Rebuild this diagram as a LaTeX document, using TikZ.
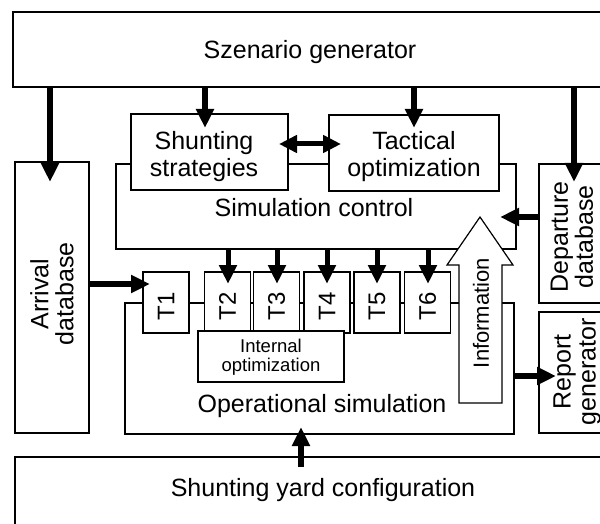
\documentclass[tikz,border=0pt]{standalone}
\usepackage{fontspec}
\setmainfont{Liberation Sans}
\usetikzlibrary{arrows.meta}
\begin{document}
\begin{tikzpicture}[x=1pt,y=-1pt,
  box/.style={draw,fill=white,line width=1.4pt,rectangle,inner sep=0pt},
  lbl/.style={font=\fontsize{25}{27}\selectfont,align=center,inner sep=0pt},
  rlbl/.style={font=\fontsize{25}{25}\selectfont,align=center,inner sep=0pt,rotate=90},
  tlbl/.style={font=\fontsize{24}{24}\selectfont,rotate=90,inner sep=0pt},
  slbl/.style={font=\fontsize{18.5}{19.5}\selectfont,align=center,inner sep=0pt},
  arr/.style={line width=5.5pt,-{Triangle[length=19pt,width=17pt]}},
  darr/.style={line width=5pt,{Triangle[length=18pt,width=17pt]}-{Triangle[length=18pt,width=17pt]}},
  infoarrow/.style={draw,fill=white,line width=1.2pt,line join=miter}]
\useasboundingbox (0,0) rectangle (600,524);
\clip (0,0) rectangle (600,524);

% outer boxes
\node[box,minimum width=607pt,minimum height=75pt] (szen) at (316.5,49.5) {};
\node[lbl] (szenT) at (310,52) {Szenario generator};
\node[box,minimum width=74pt,minimum height=271pt] (arrdb) at (52,297.5) {};
\node[rlbl] (arrdbT) at (52,294) {Arrival\\database};
\node[box,minimum width=81pt,minimum height=139pt] (depdb) at (579.5,233.5) {};
\node[rlbl] (depdbT) at (572,237) {Departure\\database};
\node[box,minimum width=81pt,minimum height=121pt] (repgen) at (579.5,372.5) {};
\node[rlbl] (repgenT) at (577,372) {Report\\generator};
\node[box,minimum width=605pt,minimum height=83pt] (yard) at (317.5,498.5) {};
\node[lbl] (yardT) at (323,490) {Shunting yard configuration};

% simulation control
\node[box,minimum width=400pt,minimum height=85pt] (simctl) at (316,206.5) {};
\node[lbl] (simctlT) at (314,208) {Simulation control};
\node[box,minimum width=157pt,minimum height=76pt] (shunt) at (209.5,152) {};
\node[lbl] (shuntT) at (204,157) {Shunting\\strategies};
\node[box,minimum width=170pt,minimum height=76pt] (tact) at (414,153) {};
\node[lbl] (tactT) at (414,157) {Tactical\\optimization};

% operational simulation
\node[box,minimum width=389pt,minimum height=131pt] (opsim) at (319.5,368.5) {};
\node[lbl] (opsimT) at (322,406) {Operational simulation};
\foreach \n/\x in {1/166,2/227.5,3/276.5,4/327,5/377,6/427.5}{
  \node[box,minimum width=46pt,minimum height=61pt] (T\n) at (\x,302.5) {};
  \node[tlbl] (T\n T) at (\x,306) {T\n};
}
\node[box,minimum width=146pt,minimum height=51pt] (intopt) at (271,356.5) {};
\node[slbl] (intoptT) at (271,357) {Internal\\optimization};

% information arrow
\draw[infoarrow] (459,403) -- (459,265) -- (447,265) -- (480,217) -- (513,265) -- (502,265) -- (502,403) -- cycle;
\node[font=\fontsize{22}{22}\selectfont,rotate=90,inner sep=0pt] (infoT) at (481,313) {Information};

% arrow end points
\coordinate (tA) at (50,182);
\coordinate (tB) at (205,128);
\coordinate (tC) at (414,128);
\coordinate (tD) at (574,182);
\coordinate (dL) at (279,144);
\coordinate (dR) at (341,144);
\coordinate (tE) at (500,217);
\coordinate (tF) at (150,284);
\coordinate (tG) at (556,376);
\coordinate (tH) at (301,427);
\coordinate (sH) at (301,467);

\draw[arr] (szen.south -| tA) -- (tA);
\draw[arr] (szen.south -| tB) -- (tB);
\draw[arr] (szen.south -| tC) -- (tC);
\draw[arr] (szen.south -| tD) -- (tD);
\draw[darr] (dL) -- (dR);
\draw[arr] (depdb.west |- tE) -- (tE);
\draw[arr] (arrdb.east |- tF) -- (tF);
\foreach \x/\n in {228/2,277/3,327/4,377/5,428/6}{
  \coordinate (tT\n) at (\x,284);
  \draw[arr,line width=5pt] (simctl.south -| tT\n) -- (tT\n);
}
\draw[arr] (opsim.east |- tG) -- (tG);
\draw[arr] (sH) -- (tH);
\end{tikzpicture}
\end{document}
